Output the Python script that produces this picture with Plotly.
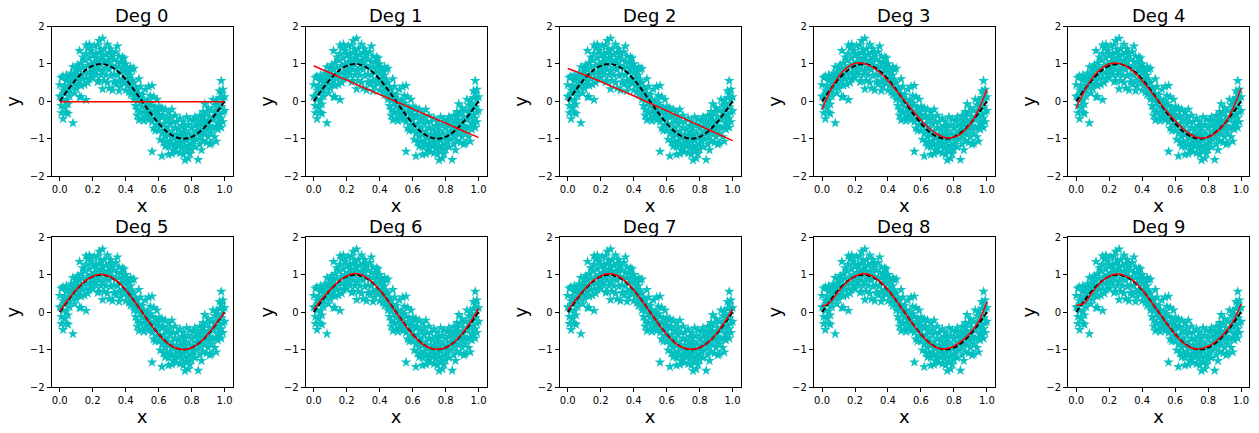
import plotly.graph_objects as go

point_x = [
    0.00,0.01,0.00,0.01,0.02,0.01,0.02,0.02,0.01,0.02,
    0.03,0.03,0.04,0.03,0.04,0.04,0.05,0.04,0.05,0.05,
    0.05,0.06,0.06,0.06,0.07,0.07,0.07,0.08,0.08,0.08,
    0.09,0.09,0.09,0.10,0.10,0.10,0.10,0.11,0.11,0.11,
    0.12,0.12,0.12,0.12,0.13,0.13,0.13,0.13,0.14,0.14,
    0.14,0.15,0.15,0.15,0.16,0.16,0.16,0.16,0.17,0.17,
    0.17,0.18,0.18,0.18,0.18,0.19,0.19,0.19,0.20,0.20,
    0.20,0.21,0.21,0.21,0.22,0.22,0.22,0.22,0.23,0.23,
    0.23,0.24,0.24,0.24,0.24,0.25,0.25,0.25,0.25,0.26,
    0.26,0.26,0.26,0.27,0.27,0.27,0.28,0.28,0.28,0.29,
    0.29,0.29,0.30,0.30,0.30,0.30,0.31,0.31,0.31,0.32,
    0.32,0.32,0.33,0.33,0.33,0.34,0.34,0.34,0.35,0.35,
    0.35,0.36,0.36,0.36,0.36,0.37,0.37,0.37,0.38,0.38,
    0.38,0.39,0.39,0.39,0.40,0.40,0.40,0.41,0.41,0.41,
    0.42,0.42,0.42,0.43,0.43,0.43,0.43,0.44,0.44,0.44,
    0.45,0.45,0.45,0.45,0.46,0.46,0.46,0.47,0.47,0.47,
    0.47,0.48,0.48,0.48,0.49,0.49,0.49,0.49,0.50,0.50,
    0.50,0.51,0.51,0.51,0.52,0.52,0.52,0.53,0.53,0.53,
    0.54,0.54,0.54,0.55,0.55,0.55,0.55,0.56,0.56,0.56,
    0.56,0.57,0.57,0.57,0.58,0.58,0.58,0.59,0.59,0.59,
    0.60,0.60,0.60,0.60,0.61,0.61,0.61,0.62,0.62,0.62,
    0.62,0.63,0.63,0.63,0.64,0.64,0.64,0.64,0.65,0.65,
    0.65,0.66,0.66,0.66,0.66,0.67,0.67,0.67,0.68,0.68,
    0.68,0.68,0.69,0.69,0.69,0.70,0.70,0.70,0.70,0.71,
    0.71,0.71,0.72,0.72,0.72,0.73,0.73,0.73,0.73,0.74,
    0.74,0.74,0.75,0.75,0.75,0.75,0.76,0.76,0.76,0.76,
    0.77,0.77,0.77,0.78,0.78,0.78,0.78,0.79,0.79,0.79,
    0.80,0.80,0.80,0.81,0.81,0.81,0.82,0.82,0.82,0.83,
    0.83,0.84,0.84,0.84,0.85,0.85,0.85,0.85,0.86,0.86,
    0.86,0.87,0.87,0.87,0.87,0.88,0.88,0.88,0.89,0.89,
    0.89,0.90,0.90,0.90,0.90,0.91,0.91,0.91,0.92,0.92,
    0.92,0.93,0.93,0.93,0.94,0.94,0.94,0.95,0.95,0.95,
    0.95,0.96,0.96,0.96,0.96,0.97,0.97,0.97,0.97,0.98,
    0.98,0.98,0.98,0.98,0.99,0.99,0.99,0.99,1.00,1.00,
]
point_y = [
    0.13,0.63,0.44,-0.31,0.30,0.14,-0.47,0.67,-0.12,0.05,
    0.42,-0.18,0.70,0.22,-0.30,0.55,-0.33,0.02,0.33,0.60,
    -0.08,0.52,0.28,0.14,0.66,0.40,0.75,-0.58,0.92,0.55,
    0.22,0.70,0.48,0.90,0.62,0.35,0.80,0.45,0.72,0.97,
    0.12,1.35,0.55,0.85,0.12,1.02,0.70,0.42,1.18,0.60,
    0.90,0.45,0.75,1.10,0.04,1.50,0.62,1.28,0.95,0.50,
    1.42,0.78,1.52,0.60,1.15,1.00,0.70,1.35,0.85,1.25,
    0.62,1.05,0.80,1.48,1.28,0.72,1.15,0.95,0.52,1.50,
    1.05,1.62,0.85,1.30,0.55,1.15,0.70,1.38,0.98,1.68,
    1.22,0.80,0.33,1.08,0.55,1.40,0.90,1.25,0.70,1.52,
    1.10,0.50,1.30,0.85,0.35,1.05,1.40,0.68,1.18,0.95,
    1.28,0.30,1.12,0.72,0.52,0.88,1.32,0.45,1.05,1.47,
    0.70,0.28,0.92,1.20,0.55,1.05,0.78,0.40,1.18,0.60,
    0.85,1.15,0.50,0.98,0.75,0.30,1.00,0.62,0.88,0.42,
    0.80,0.25,0.60,0.92,0.45,0.18,0.70,0.85,0.35,0.55,
    0.88,0.22,0.50,0.05,0.38,-0.12,0.15,0.30,-0.38,0.05,
    -0.22,0.60,0.20,-0.50,-0.05,0.40,-0.30,0.10,-0.15,-0.45,
    0.18,-0.28,0.05,-0.52,0.32,-0.18,-0.40,0.02,-0.10,-0.35,
    0.40,-0.25,-0.50,0.15,-0.05,-0.45,-0.30,-1.34,0.42,-0.12,
    -0.55,0.12,-0.30,-0.72,-0.18,-0.45,-0.78,0.05,-0.62,-0.30,
    -0.15,-0.50,-0.78,-0.35,-0.20,-0.65,-1.02,-1.46,-0.42,-0.85,
    -0.18,-1.10,-0.60,-0.38,-0.78,-1.20,-0.22,-0.95,-0.50,-1.08,
    -0.72,-1.42,-0.30,-0.90,-1.22,-0.60,-1.05,-0.42,-1.40,-0.80,
    -1.15,-0.22,-0.55,-0.98,-1.30,-0.70,-1.12,-0.38,-1.25,-0.88,
    -1.35,-0.55,-1.02,-0.75,-1.20,-0.45,-0.90,-1.38,-1.10,-0.65,
    -1.25,-0.95,-0.80,-1.42,-0.55,-1.08,-1.57,-0.70,-1.20,-0.92,
    -0.42,-1.32,-1.05,-1.52,-0.62,-0.85,-1.18,-0.48,-1.40,-0.98,
    -0.72,-1.12,-1.28,-0.52,-0.90,-1.05,-0.65,-1.22,-0.42,-0.82,
    -1.02,-1.56,-0.55,-0.78,-1.15,-0.38,-0.68,-0.92,-1.30,-0.50,
    -0.80,-0.28,-1.05,-0.60,-0.42,-0.07,-0.88,-0.50,-1.10,-0.70,
    -0.30,-0.55,-0.95,-0.18,-0.75,-0.42,-1.15,-0.65,-0.25,-0.85,
    -1.12,0.05,-0.50,-0.72,-0.30,-0.95,-0.10,-1.07,-0.40,0.02,
    -0.68,-0.22,-0.55,-0.05,-0.75,0.28,-0.35,-0.62,0.10,0.55,
    -0.70,0.22,-0.15,-0.45,0.32,0.05,-0.30,-0.55,-0.25,0.12,
]

curve_x = [0.00,0.05,0.10,0.15,0.20,0.25,0.30,0.35,0.40,0.45,0.50,
           0.55,0.60,0.65,0.70,0.75,0.80,0.85,0.90,0.95,1.00]
true_curve = [0.00,0.31,0.59,0.81,0.95,1.00,0.95,0.81,0.59,0.31,0.00,
              -0.31,-0.59,-0.81,-0.95,-1.00,-0.95,-0.81,-0.59,-0.31,0.00]

deg0 = [-0.01,-0.01,-0.01,-0.01,-0.01,-0.01,-0.01,-0.01,-0.01,-0.01,-0.01,
        -0.01,-0.01,-0.01,-0.01,-0.01,-0.01,-0.01,-0.01,-0.01,-0.01]
deg1 = [0.95,0.85,0.76,0.66,0.57,0.47,0.37,0.28,0.18,0.09,-0.01,
        -0.10,-0.20,-0.30,-0.39,-0.49,-0.58,-0.68,-0.78,-0.87,-0.97]
deg2 = [0.88,0.80,0.71,0.62,0.53,0.43,0.34,0.24,0.15,0.05,-0.05,
        -0.15,-0.25,-0.35,-0.45,-0.55,-0.65,-0.75,-0.85,-0.95,-1.05]
deg3 = [-0.22,0.28,0.66,0.90,1.02,1.02,0.93,0.77,0.55,0.29,0.02,
        -0.25,-0.50,-0.72,-0.88,-0.97,-0.96,-0.84,-0.60,-0.22,0.32]
deg4 = [-0.18,0.28,0.64,0.87,1.00,1.02,0.95,0.78,0.55,0.28,0.00,
        -0.27,-0.52,-0.74,-0.90,-0.98,-0.96,-0.83,-0.60,-0.20,0.35]
deg5 = [0.02,0.33,0.60,0.82,0.96,1.01,0.96,0.82,0.60,0.31,0.00,
        -0.31,-0.60,-0.82,-0.95,-1.00,-0.95,-0.81,-0.58,-0.30,0.00]
deg6 = [0.08,0.35,0.60,0.82,0.97,1.03,0.98,0.82,0.59,0.30,-0.01,
        -0.32,-0.60,-0.82,-0.95,-0.99,-0.95,-0.81,-0.58,-0.27,0.10]
deg7 = [0.05,0.34,0.60,0.83,0.97,1.03,0.98,0.83,0.60,0.30,0.00,
        -0.31,-0.60,-0.82,-0.95,-0.99,-0.95,-0.81,-0.58,-0.28,0.08]
deg8 = [0.15,0.27,0.56,0.80,0.96,1.03,0.98,0.83,0.60,0.31,0.00,
        -0.31,-0.60,-0.82,-0.96,-0.98,-0.91,-0.76,-0.55,-0.25,0.28]
deg9 = [0.18,0.25,0.55,0.80,0.96,1.02,0.97,0.83,0.60,0.31,0.00,
        -0.31,-0.60,-0.82,-0.96,-0.98,-0.91,-0.77,-0.56,-0.26,0.22]
fits = [deg0, deg1, deg2, deg3, deg4, deg5, deg6, deg7, deg8, deg9]

titles = ["Deg 0","Deg 1","Deg 2","Deg 3","Deg 4","Deg 5","Deg 6","Deg 7","Deg 8","Deg 9"]
x_ticks = [0.0,0.2,0.4,0.6,0.8,1.0]
x_tick_labels = ["0.0","0.2","0.4","0.6","0.8","1.0"]
y_ticks = [-2,-1,0,1,2]

W, H = 1259, 433
lefts = [51.5, 305.5, 559.5, 813.8, 1068]
panel_w = 181.3
tops = [26.5, 237.3]
panel_h = 149.7
FONT = "DejaVu Sans"

fig = go.Figure()
layout = dict(
    width=W, height=H, margin=dict(l=0, r=0, t=0, b=0, autoexpand=False), autosize=False,
    paper_bgcolor="white", plot_bgcolor="white", showlegend=False,
    font=dict(family=FONT, color="black", size=10),
)
annotations = []
for i, (title, fit) in enumerate(zip(titles, fits)):
    n = "" if i == 0 else str(i + 1)
    xref, yref = f"x{n}", f"y{n}"
    left = lefts[i % 5]
    top = tops[i // 5]
    fig.add_trace(go.Scatter(
        x=point_x, y=point_y, mode="markers", xaxis=xref, yaxis=yref,
        marker=dict(symbol="star", size=8, color="rgba(0,191,191,0.95)", line=dict(width=0)),
    ))
    fig.add_trace(go.Scatter(
        x=curve_x, y=true_curve, mode="lines", xaxis=xref, yaxis=yref,
        line=dict(color="black", width=2, dash="5px,2.5px", shape="spline"),
    ))
    fig.add_trace(go.Scatter(
        x=curve_x, y=fit, mode="lines", xaxis=xref, yaxis=yref,
        line=dict(color="red", width=1.5, shape="spline"),
    ))
    common = dict(
        showgrid=False, zeroline=False, showline=True, mirror=True,
        linecolor="black", linewidth=1, ticks="outside", ticklen=4,
        tickwidth=1, tickcolor="black", tickfont=dict(size=10, family=FONT),
    )
    layout[f"xaxis{n}"] = dict(
        common, domain=[left / W, (left + panel_w) / W], range=[-0.05, 1.05],
        anchor=yref, tickvals=x_ticks, ticktext=x_tick_labels,
        title=dict(text="x", font=dict(size=18, family=FONT), standoff=5),
    )
    layout[f"yaxis{n}"] = dict(
        common, domain=[1 - (top + panel_h) / H, 1 - top / H], range=[-2, 2],
        anchor=xref, tickvals=y_ticks,
        title=dict(text="y", font=dict(size=18, family=FONT), standoff=5),
    )
    annotations.append(dict(
        text=title, xref="paper", yref="paper",
        x=(left + panel_w / 2) / W, y=1 - (top + 1.5) / H,
        xanchor="center", yanchor="bottom", showarrow=False,
        font=dict(size=18, family=FONT, color="black"),
    ))
layout["annotations"] = annotations
fig.update_layout(**layout)
fig.write_html("out.html", post_script="document.body.style.margin='0';",
               config={"displayModeBar": False})
